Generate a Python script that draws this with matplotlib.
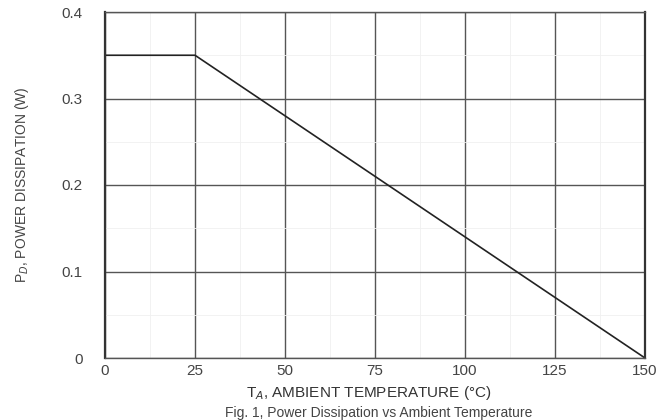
import numpy as np
import matplotlib.pyplot as plt

plt.rcParams['font.family'] = ['Liberation Sans', 'DejaVu Sans']

# derating curve
temp = [0, 25, 150]
power = [0.35, 0.35, 0.0]

x_ticks = [0, 25, 50, 75, 100, 125, 150]
y_ticks = [0, 0.1, 0.2, 0.3, 0.4]
y_labels = ['0', '0.1', '0.2', '0.3', '0.4']

fig = plt.figure(figsize=(6.65, 4.2), dpi=100)
ax = fig.add_axes([105 / 665, 1 - 358 / 420, 540 / 665, 346 / 420])

ax.plot(temp, power, color='#222222', lw=1.2)

ax.set_xlim(0, 150)
ax.set_ylim(0, 0.4)
ax.set_xticks(x_ticks)
ax.set_yticks(y_ticks)
ax.set_yticklabels(y_labels)
ax.set_xticks(np.arange(0, 151, 12.5), minor=True)
ax.set_yticks(np.arange(0, 0.41, 0.05), minor=True)
ax.grid(True, which='major', color='#555555', lw=1.0)
ax.grid(True, which='minor', color='#f0f0f0', lw=0.6)
ax.tick_params(which='both', length=0)
ax.tick_params(axis='x', pad=4, labelsize=11, colors='#444444')
ax.tick_params(axis='y', pad=16, labelsize=11, colors='#444444')
for s in ['left', 'right']:
    ax.spines[s].set_linewidth(1.6)
    ax.spines[s].set_color('#333333')
for s in ['top', 'bottom']:
    ax.spines[s].set_linewidth(1.0)
    ax.spines[s].set_color('#555555')

ax.set_ylabel('P$_D$, POWER DISSIPATION (W)', fontsize=10, color='#444444', labelpad=22)
fig.text(0.555, 0.043, 'T$_A$, AMBIENT TEMPERATURE (°C)', ha='center', va='bottom',
         fontsize=11, color='#333333')
fig.text(0.57, 0.0, 'Fig. 1, Power Dissipation vs Ambient Temperature', ha='center', va='bottom',
         fontsize=10, color='#444444')

fig.savefig('out.png', dpi=100)
